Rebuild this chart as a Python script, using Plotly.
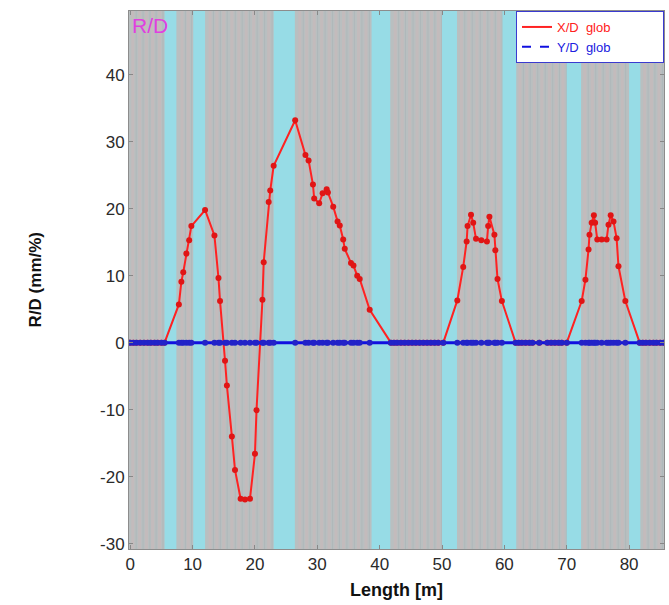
import plotly.graph_objects as go

# ---- data ----
s_pos = [0.0, 0.5, 1.0, 1.6, 2.2, 2.8, 3.3, 3.9, 4.4, 5.0, 5.5,
         7.8, 8.2, 8.5, 9.0, 9.45, 9.8, 12.0, 13.5, 14.15, 14.4,
         15.2, 15.5, 16.3, 16.8, 17.7, 18.4, 19.2, 20.0, 20.25, 21.2,
         21.4, 22.2, 22.45, 23.0, 26.45, 28.1, 28.6, 29.3, 29.5, 30.3,
         30.85, 31.5, 31.7, 32.55, 33.25, 33.6, 34.15, 34.4, 35.4, 35.8,
         36.4, 36.8, 38.4, 41.8,
         42.3, 42.8, 43.4, 44.0, 44.6, 45.2, 45.8, 46.4, 47.0, 47.6, 48.2, 48.8, 49.4, 50.2,
         52.45, 53.4, 53.95, 54.1, 54.65, 55.0, 55.45, 56.3, 57.2, 57.4, 57.6, 58.4, 58.55, 58.9, 59.6, 61.8,
         62.3, 62.8, 63.4, 64.0, 64.5, 65.6, 66.9, 67.5, 68.1, 68.7, 69.2, 70.0,
         72.4, 73.0, 73.5, 73.65, 74.0, 74.35, 74.55, 74.9, 75.6, 76.4, 76.7, 77.05, 77.5, 78.0, 78.3, 79.4, 81.7,
         82.2, 82.7, 83.3, 83.9, 84.4, 85.0, 85.55]

x_disp = [0, 0, 0, 0, 0, 0, 0, 0, 0, 0, 0,
          5.7, 9.1, 10.5, 13.3, 15.3, 17.4, 19.8, 16.0, 9.65, 6.2,
          -2.7, -6.4, -14.0, -19.0, -23.3, -23.4, -23.3, -16.6, -10.1, 6.4,
          12.0, 21.0, 22.7, 26.4, 33.2, 28.0, 27.2, 23.6, 21.5, 20.8,
          22.3, 22.9, 22.4, 20.3, 18.1, 17.5, 15.4, 14.0, 11.9, 11.5,
          10.0, 9.5, 4.9, 0,
          0, 0, 0, 0, 0, 0, 0, 0, 0, 0, 0, 0, 0, 0,
          6.3, 11.3, 15.1, 17.4, 19.1, 17.9, 15.5, 15.3, 15.1, 17.4, 18.8, 16.1, 13.8, 9.5, 6.2, 0,
          0, 0, 0, 0, 0, 0, 0, 0, 0, 0, 0, 0,
          6.2, 9.4, 13.9, 16.1, 17.9, 19.0, 17.9, 15.4, 15.4, 15.4, 17.6, 19.0, 18.1, 15.6, 11.4, 6.2, 0,
          0, 0, 0, 0, 0, 0, 0]

y_disp = [0.0 for _ in s_pos]

# dipole (cyan) bands [start, end] in metres
dip_start = [5.5, 10.1, 23.0, 38.7, 50.0, 59.7, 70.0, 80.0]
dip_end = [7.4, 12.0, 26.4, 41.7, 52.4, 61.9, 72.3, 81.8]

# other lattice elements (pinkish stripes) centres in metres
elem_pos = [0.4, 1.5, 2.6, 3.6, 4.7, 8.3, 9.3, 12.8, 13.9, 15.0, 16.3, 17.4,
            18.6, 19.8, 21.0, 22.2, 27.2, 28.3, 29.5, 30.7, 31.9, 33.0, 34.2,
            35.4, 36.6, 37.8, 42.5, 43.6, 44.8, 46.0, 47.2, 48.3, 49.4, 53.1,
            54.3, 55.6, 56.8, 58.0, 59.1, 62.5, 63.6, 64.8, 66.0, 67.2, 68.3,
            69.4, 72.9, 74.1, 75.3, 76.5, 77.7, 78.9, 82.5, 83.6, 84.8]

x_ticks = [0, 10, 20, 30, 40, 50, 60, 70, 80]
y_ticks = [-30, -20, -10, 0, 10, 20, 30, 40]
y_tick_text = ["-30", "-20", "-10", "0", "10", "20", "30", "40"]

legend_x_label = "X/D\u00a0\u00a0glob"
legend_y_label = "Y/D\u00a0\u00a0glob"
legend_pad = "\u00a0" * 13

fig = go.Figure()

shapes = []
for c in elem_pos:
    shapes.append(dict(type="rect", xref="x", yref="paper", x0=c - 0.25, x1=c + 0.25,
                       y0=0, y1=1, fillcolor="#c3bbbc", line=dict(width=0), layer="below"))
    shapes.append(dict(type="line", xref="x", yref="paper", x0=c + 0.55, x1=c + 0.55,
                       y0=0, y1=1, line=dict(color="#afb8ba", width=1), layer="below"))
for a, b in zip(dip_start, dip_end):
    shapes.append(dict(type="rect", xref="x", yref="paper", x0=a, x1=b, y0=0, y1=1,
                       fillcolor="#97dce6", line=dict(width=0), layer="below"))

fig.add_trace(go.Scatter(
    x=s_pos, y=x_disp, mode="lines+markers", name="X/D glob",
    line=dict(color="#ff2222", width=2),
    marker=dict(color="#e01515", size=6, symbol="circle"),
    showlegend=False))

fig.add_trace(go.Scatter(
    x=s_pos, y=y_disp, mode="lines+markers", name="Y/D glob",
    line=dict(color="#1010e0", width=3),
    marker=dict(color="#2222c8", size=6, symbol="circle"),
    showlegend=False))

# legend-only entries
fig.add_trace(go.Scatter(
    x=[None], y=[None], mode="lines",
    name="<span style='color:#ff2020'>" + legend_x_label + legend_pad + "</span>",
    line=dict(color="#ff2222", width=2), showlegend=True))
fig.add_trace(go.Scatter(
    x=[None], y=[None], mode="lines",
    name="<span style='color:#2020e0'>" + legend_y_label + legend_pad + "</span>",
    line=dict(color="#1010e0", width=2, dash="dash"), showlegend=True))

fig.update_layout(
    width=669, height=605,
    margin=dict(l=129, r=5, t=11, b=56),
    paper_bgcolor="white",
    plot_bgcolor="#b9bfc0",
    shapes=shapes,
    font=dict(family="Arial", size=17, color="#2a2a2a"),
    showlegend=True,
    legend=dict(x=1, y=1, xanchor="right", yanchor="top",
                bgcolor="white", bordercolor="#3a3ad0", borderwidth=1,
                font=dict(size=13, family="Arial"),
                tracegroupgap=0, itemwidth=30),
    annotations=[
        dict(text="R/D", xref="paper", yref="paper", x=0, y=1, xanchor="left", yanchor="top",
             showarrow=False, font=dict(size=21, color="#e040e0", family="Arial"), xshift=1, yshift=-1),
        dict(text="<b>R/D (mm/%)</b>", xref="paper", yref="paper", x=-0.175, y=0.5,
             textangle=-90, showarrow=False, font=dict(size=17, color="#111111", family="Arial"),
             xanchor="center", yanchor="middle"),
        dict(text="<b>Length [m]</b>", xref="paper", yref="paper", x=0.5, y=-0.077,
             showarrow=False, font=dict(size=18, color="#111111", family="Arial"),
             xanchor="center", yanchor="middle"),
    ],
)

fig.update_xaxes(range=[-0.2, 85.6], tickvals=x_ticks, showgrid=False, zeroline=False,
                 ticks="inside", ticklen=4, tickcolor="#888888",
                 showline=True, linecolor="#8c8c8c", linewidth=1, mirror="ticks")
fig.update_yaxes(range=[-30.8, 49.5], tickvals=y_ticks, ticktext=y_tick_text,
                 showgrid=False, zeroline=False,
                 ticks="inside", ticklen=4, tickcolor="#888888",
                 showline=True, linecolor="#8c8c8c", linewidth=1, mirror="ticks")

fig.write_html("out.html")
